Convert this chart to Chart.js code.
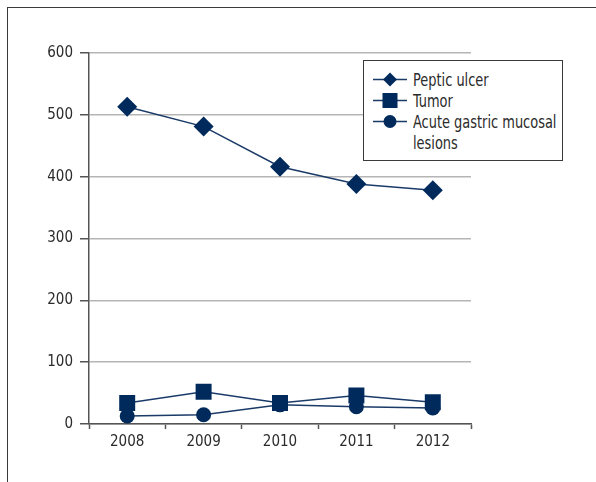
<!DOCTYPE html>
<html>
<head>
<meta charset="utf-8">
<script src="https://cdn.jsdelivr.net/npm/chart.js@4/dist/chart.umd.min.js"></script>
<style>
  html, body { margin: 0; padding: 0; background: #fff; }
  #wrap { position: relative; width: 596px; height: 482px; overflow: hidden; }
  #frame { position: absolute; left: 7px; top: 7px; width: 620px; height: 500px;
           border-left: 1.5px solid #3a3a3a; border-top: 1.5px solid #3a3a3a; }
  #chart { position: absolute; left: 0; top: 0; }
  #legend { position: absolute; left: 363px; top: 60px; width: 200px; height: 101px;
            box-sizing: border-box; border: 1.5px solid #3a3a3a; background: #fff;
            padding-top: 8px; overflow: hidden;
            font-family: 'DejaVu Sans Condensed', 'DejaVu Sans', sans-serif;
            font-size: 18px; line-height: 21px; color: #2b2b2b; }
  .row { display: flex; align-items: flex-start; white-space: normal; }
  .row svg { flex: none; margin-left: 9px; margin-right: 6px; }
  .row span { flex: none; width: 184px; transform: scaleX(0.8); transform-origin: 0 0; }
</style>
</head>
<body>
<div id="wrap">
  <div id="frame"></div>
  <canvas id="chart" width="596" height="482"></canvas>
  <div id="legend"></div>
</div>
<script>
// Annual case counts by diagnosis
const years = ['2008', '2009', '2010', '2011', '2012'];
const pepticUlcer = [513, 481, 416, 388, 378];
const tumor = [34, 52, 34, 46, 35];
const acuteMucosalLesions = [13, 15, 31, 28, 26];
const seriesNames = ['Peptic ulcer', 'Tumor', 'Acute gastric mucosal lesions'];
const yTickValues = [0, 100, 200, 300, 400, 500, 600];

const NAVY = '#002a5c';
const LINE = '#1a3a68';
const FONT = "'DejaVu Sans Condensed', 'DejaVu Sans', sans-serif";

const series = [
  { label: seriesNames[0], data: pepticUlcer, pointStyle: 'rectRot', pointRadius: 10 },
  { label: seriesNames[1], data: tumor, pointStyle: 'rect', pointRadius: 11.3 },
  { label: seriesNames[2], data: acuteMucosalLesions, pointStyle: 'circle', pointRadius: 7.5 }
];

new Chart(document.getElementById('chart'), {
  type: 'line',
  data: {
    labels: years,
    datasets: series.map(s => ({
      label: s.label,
      data: s.data,
      borderColor: LINE,
      borderWidth: 1.5,
      backgroundColor: NAVY,
      pointStyle: s.pointStyle,
      pointRadius: s.pointRadius,
      pointHoverRadius: s.pointRadius,
      pointBackgroundColor: NAVY,
      pointBorderColor: NAVY,
      pointBorderWidth: 0,
      tension: 0,
      fill: false
    }))
  },
  options: {
    responsive: false,
    animation: false,
    events: [],
    layout: { padding: { top: 53, right: 125, left: 0, bottom: 0 } },
    plugins: { legend: { display: false }, tooltip: { enabled: false } },
    scales: {
      x: {
        type: 'category',
        offset: true,
        grid: { display: true, drawOnChartArea: false, drawTicks: true, offset: true,
                tickLength: 5, tickColor: '#555', tickWidth: 1.5 },
        border: { display: true, color: '#555', width: 1.5 },
        ticks: { color: '#2b2b2b', padding: 4, font: { family: FONT, size: 15 } },
        afterFit: s => { s.height = 58; }
      },
      y: {
        min: 0,
        max: 600,
        afterBuildTicks: s => { s.ticks = yTickValues.map(v => ({ value: v })); },
        grid: { color: '#b5b5b5', lineWidth: 1.5, tickLength: 9, tickColor: '#555', tickWidth: 1.5 },
        border: { display: true, color: '#555', width: 1.5 },
        ticks: { color: '#2b2b2b', padding: 7, font: { family: FONT, size: 15 } },
        afterFit: s => { s.width = 89; }
      }
    }
  }
});

// Legend built from the same series definitions
function markerSvg(style) {
  let shape;
  if (style === 'rectRot') shape = '<polygon points="17,3.5 24,10.5 17,17.5 10,10.5" fill="' + NAVY + '"/>';
  else if (style === 'rect') shape = '<rect x="9.5" y="3" width="15" height="15" fill="' + NAVY + '"/>';
  else shape = '<circle cx="17" cy="10.5" r="6.5" fill="' + NAVY + '"/>';
  return '<svg width="34" height="21" viewBox="0 0 34 21">' +
         '<line x1="0" y1="10.5" x2="34" y2="10.5" stroke="' + LINE + '" stroke-width="1.5"/>' +
         shape + '</svg>';
}
document.getElementById('legend').innerHTML = series.map(s =>
  '<div class="row">' + markerSvg(s.pointStyle) + '<span>' + s.label + '</span></div>'
).join('');
</script>
</body>
</html>
